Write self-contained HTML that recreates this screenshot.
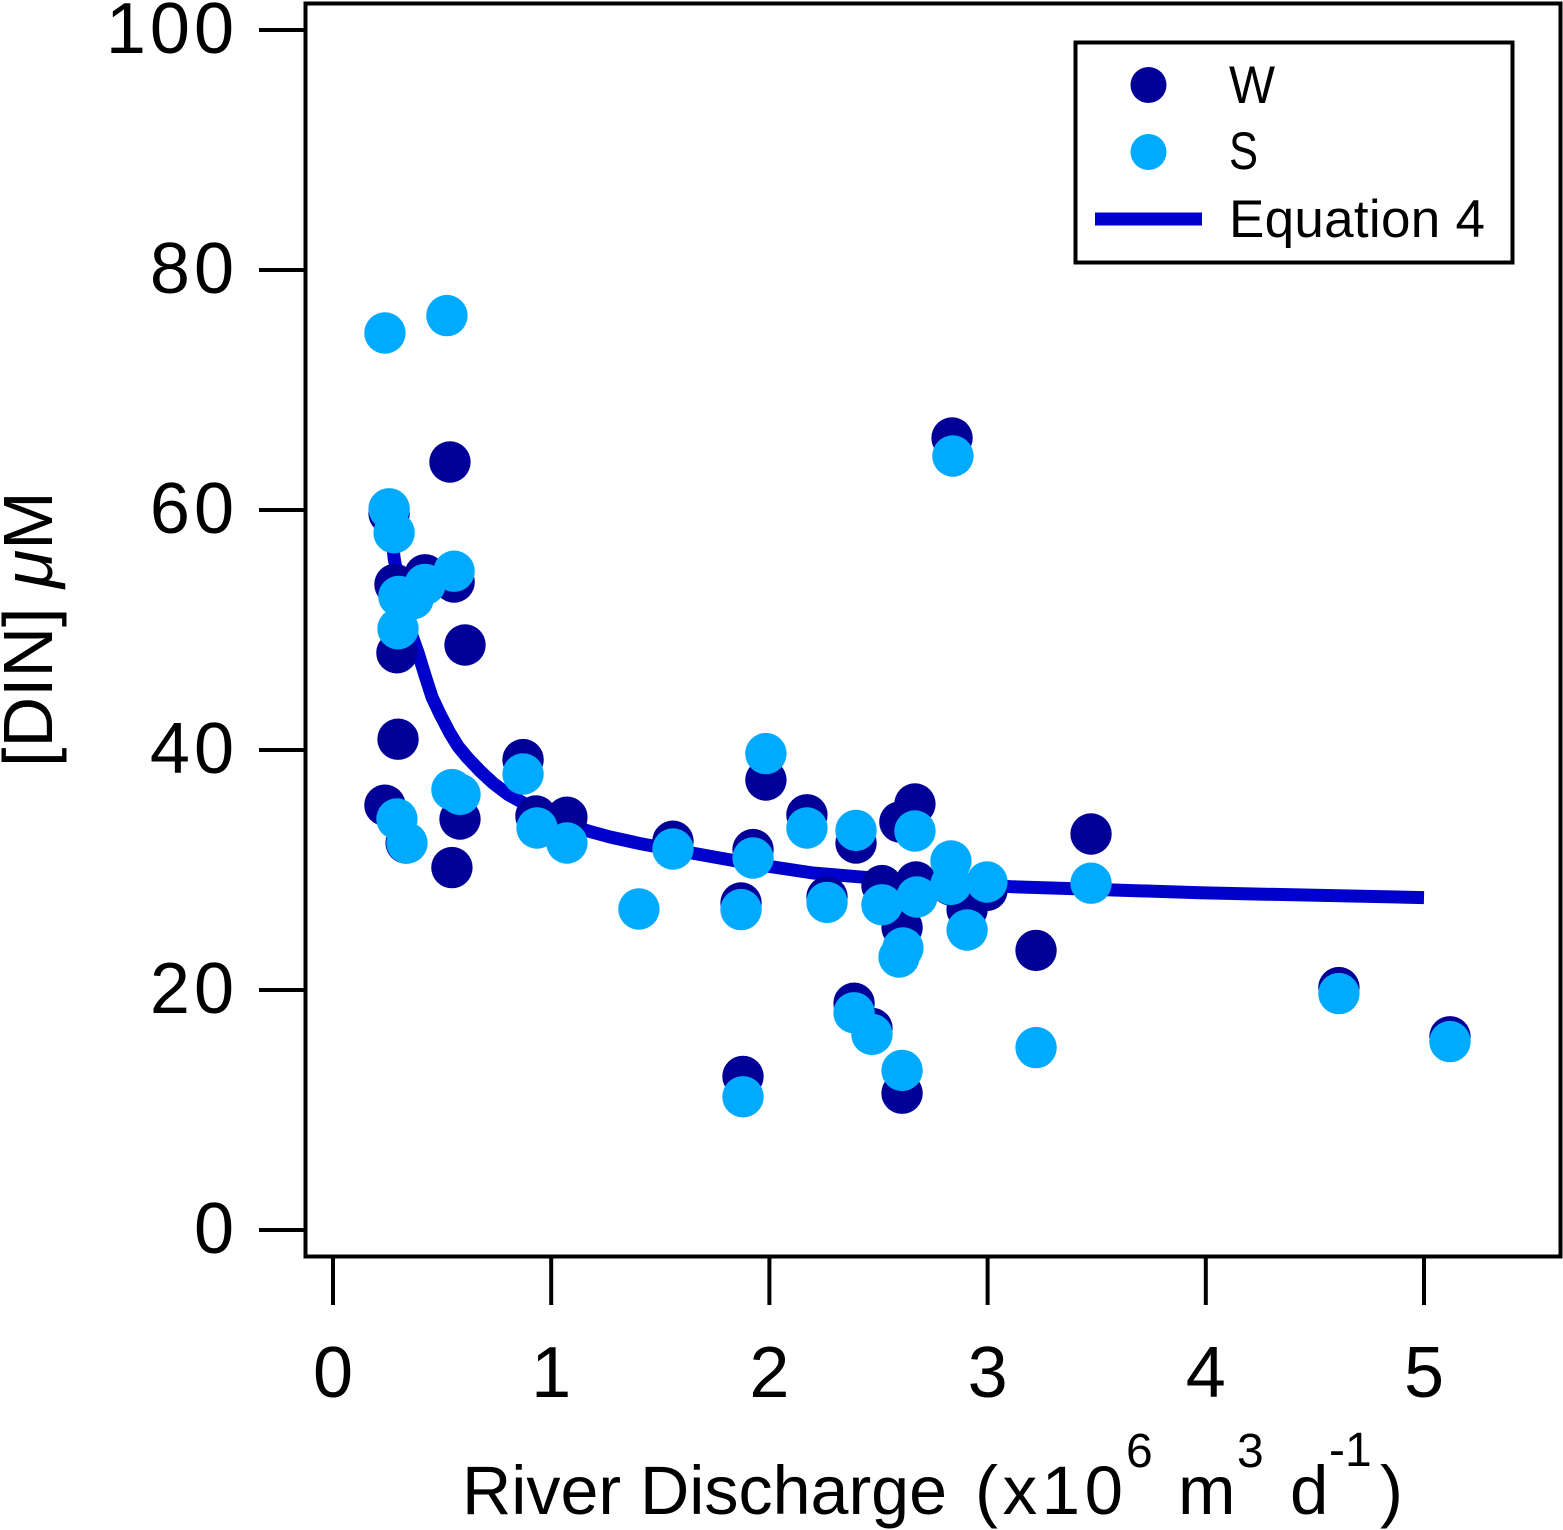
<!DOCTYPE html>
<html lang="en">
<head>
<meta charset="utf-8">
<title>DIN vs River Discharge</title>
<style>
html,body{margin:0;padding:0;background:#fff;width:1563px;height:1530px;overflow:hidden}
svg{display:block;font-family:"Liberation Sans",sans-serif;fill:#000}
</style>
</head>
<body>
<svg id="chart" xmlns="http://www.w3.org/2000/svg" width="1563" height="1530" viewBox="0 0 1563 1530">
  <rect x="0" y="0" width="1563" height="1530" fill="#fff"/>
  <g id="curve-layer"></g>
  <g id="w-layer"></g>
  <g id="s-layer"></g>
  <rect x="305.5" y="3.5" width="1255" height="1253" fill="none" stroke="#000" stroke-width="4"/>
  <g id="x-axis"></g>
  <g id="y-axis"></g>

  <g font-size="69">
    <text x="462" y="1514" textLength="485" lengthAdjust="spacingAndGlyphs">River Discharge</text>
    <text x="975" y="1514" textLength="148" lengthAdjust="spacing">(x10</text>
    <text x="1126" y="1467" font-size="48">6</text>
    <text x="1178" y="1514">m</text>
    <text x="1237" y="1467" font-size="48">3</text>
    <text x="1290" y="1514">d</text>
    <text x="1329" y="1466" font-size="48">-1</text>
    <text x="1380" y="1514">)</text>
  </g>
  <text transform="translate(52,767) rotate(-90)" font-size="70">[DIN] <tspan font-style="italic">μ</tspan>M</text>

  <g>
    <rect x="1075.5" y="42.5" width="437" height="220" fill="#fff" stroke="#000" stroke-width="4"/>
    <circle cx="1148.5" cy="85" r="18" fill="#000099"/>
    <circle cx="1148.5" cy="152" r="18" fill="#00AAFF"/>
    <line x1="1095" y1="219" x2="1202" y2="219" stroke="#0000CC" stroke-width="13"/>
    <text x="1229" y="103" font-size="53" textLength="46" lengthAdjust="spacingAndGlyphs">W</text>
    <text x="1229" y="169" font-size="53" textLength="29" lengthAdjust="spacingAndGlyphs">S</text>
    <text x="1229" y="237" font-size="53" textLength="256" lengthAdjust="spacing">Equation 4</text>
  </g>
</svg>
<script>
var xTicks = [0, 1, 2, 3, 4, 5];
var yTicks = [0, 20, 40, 60, 80, 100];

var wX = [0.257,0.284,0.293,0.298,0.238,0.335,0.367,0.422,0.555,0.536,0.605,0.582,0.545,0.871,0.93,1.072,1.558,1.87,1.879,1.925,1.984,2.172,2.264,2.397,2.388,2.47,2.516,2.608,2.608,2.598,2.667,2.672,2.837,2.832,2.906,2.997,3.222,3.474,4.61,5.119];
var wY = [59.7,53.8,48.1,40.9,35.4,32.25,52.75,54.6,54,64,48.75,34.25,30.2,39.2,34.5,34.4,32.4,27.25,12.8,31.7,37.5,34.6,27.75,32.25,18.9,16.8,28.7,25.2,11.4,34,35.5,29,66,28.75,26.7,28.3,23.3,33,20.2,16.1];

var sX = [0.238,0.257,0.28,0.302,0.367,0.422,0.522,0.555,0.298,0.545,0.582,0.293,0.339,0.871,0.935,1.072,1.402,1.558,1.87,1.879,1.925,1.984,2.172,2.264,2.397,2.388,2.47,2.516,2.612,2.594,2.608,2.667,2.676,2.832,2.832,2.841,2.906,2.997,3.222,3.474,4.61,5.119];
var sY = [74.75,60.1,58.1,52.8,52.6,53.8,76.2,54.9,50.1,36.7,36.3,34.25,32.25,38,33.5,32.25,26.75,31.75,26.7,11.1,31,39.7,33.5,27.3,33.3,18.1,16.3,27.1,23.5,22.75,13.3,33.25,27.75,30.75,28.8,64.5,25,29,15.2,28.9,19.7,15.7];

var curveX = [0.27,0.28,0.298,0.325,0.353,0.39,0.422,0.454,0.49,0.536,0.573,0.614,0.674,0.733,0.802,0.871,0.972,1.072,1.169,1.27,1.407,1.558,1.925,2.2,2.43,3.116,3.474,3.973,5];
var curveY = [57.9,56,54.2,51.8,50,48.1,46.2,44.4,43,41.4,40.3,39.4,38.25,37.25,36.3,35.6,34.7,33.9,33.25,32.75,32.2,31.7,30.5,29.75,29.4,28.6,28.4,28.1,27.7];

var NS = 'http://www.w3.org/2000/svg';
function xScale(v) { return 333 + v * 218.2; }
function yScale(v) { return 1230 - v * 12; }
function make(tag, parent, attrs) {
  var el = document.createElementNS(NS, tag);
  for (var k in attrs) { el.setAttribute(k, attrs[k]); }
  parent.appendChild(el);
  return el;
}

var curvePts = curveX.map(function (v, i) { return xScale(v) + ',' + yScale(curveY[i]); }).join(' ');
var curve = make('polyline', document.getElementById('curve-layer'), {
  points: curvePts, fill: 'none', stroke: '#0000CC', 'stroke-width': 13, 'stroke-linejoin': 'round'
});



var wLayer = document.getElementById('w-layer');
wX.forEach(function (v, i) {
  var c = make('circle', wLayer, { cx: xScale(v), cy: yScale(wY[i]), r: 20.7, fill: '#000099' });
  
  
});

var sLayer = document.getElementById('s-layer');
sX.forEach(function (v, i) {
  var c = make('circle', sLayer, { cx: xScale(v), cy: yScale(sY[i]), r: 20.7, fill: '#00AAFF' });
  
  
});

var xAxis = document.getElementById('x-axis');
xTicks.forEach(function (v) {
  var t = make('line', xAxis, { x1: xScale(v), x2: xScale(v), y1: 1256, y2: 1305, stroke: '#000', 'stroke-width': 4 });
  
  
  var l = make('text', xAxis, { x: xScale(v), y: 1397, 'font-size': 72, 'text-anchor': 'middle' });
  
  
  l.textContent = v;
});

var yAxis = document.getElementById('y-axis');
yTicks.forEach(function (v) {
  var t = make('line', yAxis, { x1: 259, x2: 305, y1: yScale(v), y2: yScale(v), stroke: '#000', 'stroke-width': 4 });
  
  
  var l = make('text', yAxis, { x: 238, y: yScale(v) + 23, 'font-size': 72, 'text-anchor': 'end', 'letter-spacing': 4 });
  
  
  l.textContent = v;
});
</script>
</body>
</html>
